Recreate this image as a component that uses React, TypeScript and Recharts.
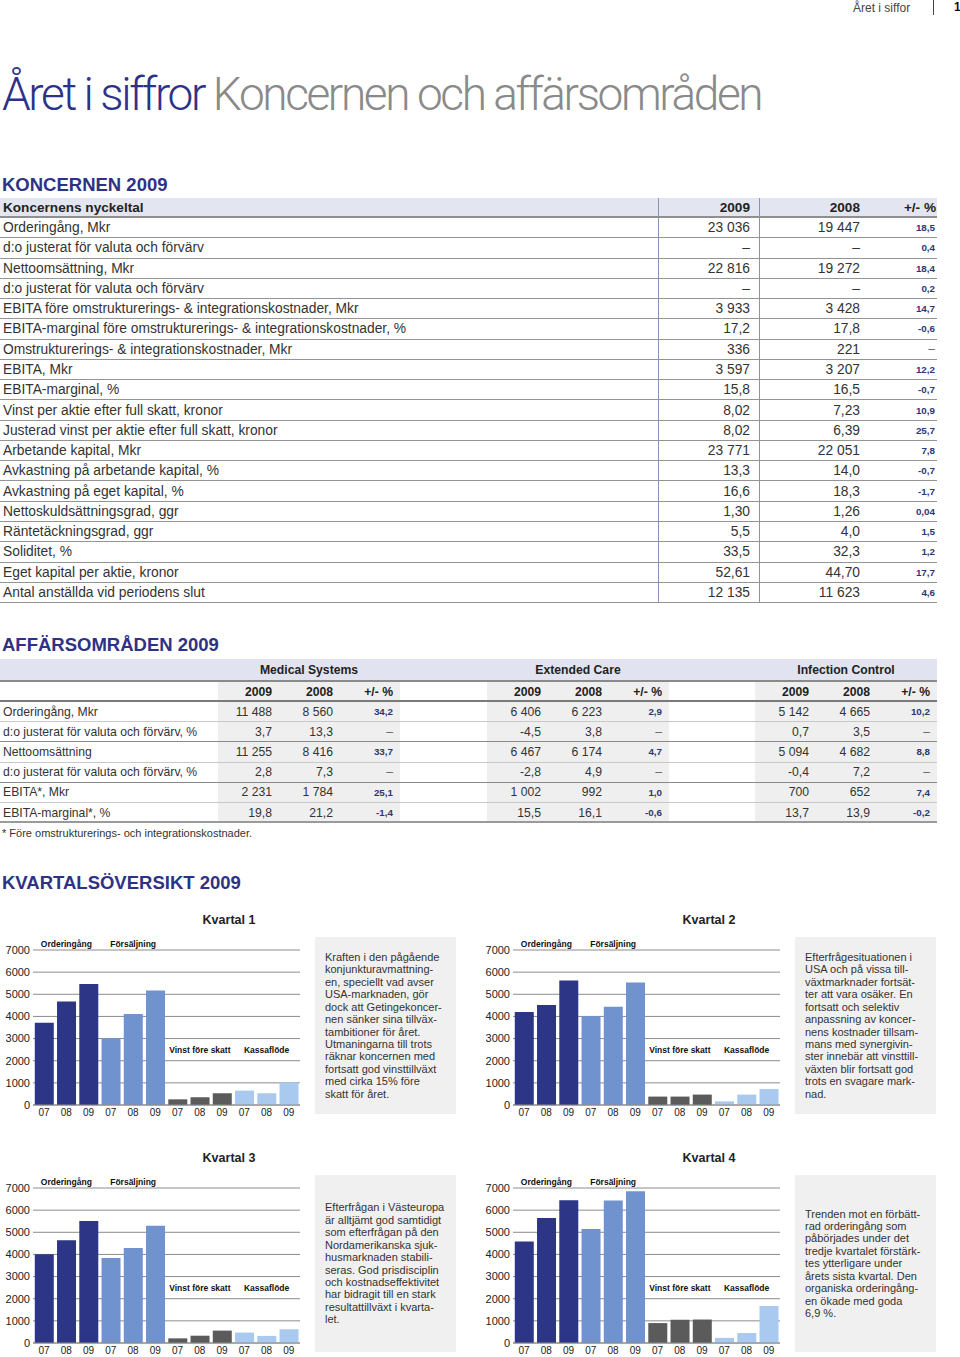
import React from "react";
import { BarChart, Bar, XAxis, YAxis, CartesianGrid, Cell, ReferenceArea } from "recharts";

// ---- quarterly chart data (Mkr) ----
const YEARS = ["07", "08", "09"];
const SERIES_NAMES = ["Orderingång", "Försäljning", "Vinst före skatt", "Kassaflöde"];
const SERIES_COLORS = ["#2c3586", "#7092cf", "#5b5b5b", "#a9c9ee"];
const Y_TICKS = [0, 1000, 2000, 3000, 4000, 5000, 6000, 7000];

const Q1_ORDERS = [3720, 4670, 5470];
const Q1_SALES = [3010, 4110, 5170];
const Q1_PROFIT = [256, 350, 530];
const Q1_CASH = [650, 530, 1010];

const Q2_ORDERS = [4200, 4520, 5620];
const Q2_SALES = [4020, 4440, 5530];
const Q2_PROFIT = [380, 380, 470];
const Q2_CASH = [165, 470, 720];

const Q3_ORDERS = [4010, 4640, 5510];
const Q3_SALES = [3840, 4290, 5290];
const Q3_PROFIT = [210, 330, 560];
const Q3_CASH = [470, 320, 620];

const Q4_ORDERS = [4580, 5650, 6450];
const Q4_SALES = [5150, 6430, 6850];
const Q4_PROFIT = [900, 1050, 1060];
const Q4_CASH = [230, 450, 1670];

const Q1_TEXT = ["Kraften i den pågående", "konjunkturavmattning-", "en, speciellt vad avser", "USA-marknaden, gör", "dock att Getingekoncer-", "nen sänker sina tillväx-", "tambitioner för året.", "Utmaningarna till trots", "räknar koncernen med", "fortsatt god vinsttillväxt", "med cirka 15% före", "skatt för året."];
const Q2_TEXT = ["Efterfrågesituationen i", "USA och på vissa till-", "växtmarknader fortsät-", "ter att vara osäker. En", "fortsatt och selektiv", "anpassning av koncer-", "nens kostnader tillsam-", "mans med synergivin-", "ster innebär att vinsttill-", "växten blir fortsatt god", "trots en svagare mark-", "nad."];
const Q3_TEXT = ["Efterfrågan i Västeuropa", "är alltjämt god samtidigt", "som efterfrågan på den", "Nordamerikanska sjuk-", "husmarknaden stabili-", "seras. God prisdisciplin", "och kostnadseffektivitet", "har bidragit till en stark", "resultattillväxt i kvarta-", "let."];
const Q4_TEXT = ["Trenden mot en förbätt-", "rad orderingång som", "påbörjades under det", "tredje kvartalet förstärk-", "tes ytterligare under", "årets sista kvartal. Den", "organiska orderingång-", "en ökade med goda", "6,9 %."];

// ---- group key figures ----
const KEY_LABELS = [
  "Orderingång, Mkr",
  "d:o justerat för valuta och förvärv",
  "Nettoomsättning, Mkr",
  "d:o justerat för valuta och förvärv",
  "EBITA före omstrukturerings- & integrationskostnader, Mkr",
  "EBITA-marginal före omstrukturerings- & integrationskostnader, %",
  "Omstrukturerings- & integrationskostnader, Mkr",
  "EBITA, Mkr",
  "EBITA-marginal, %",
  "Vinst per aktie efter full skatt, kronor",
  "Justerad vinst per aktie efter full skatt, kronor",
  "Arbetande kapital, Mkr",
  "Avkastning på arbetande kapital, %",
  "Avkastning på eget kapital, %",
  "Nettoskuldsättningsgrad, ggr",
  "Räntetäckningsgrad, ggr",
  "Soliditet, %",
  "Eget kapital per aktie, kronor",
  "Antal anställda vid periodens slut",
];
const KEY_2009 = ["23 036", "–", "22 816", "–", "3 933", "17,2", "336", "3 597", "15,8", "8,02", "8,02", "23 771", "13,3", "16,6", "1,30", "5,5", "33,5", "52,61", "12 135"];
const KEY_2008 = ["19 447", "–", "19 272", "–", "3 428", "17,8", "221", "3 207", "16,5", "7,23", "6,39", "22 051", "14,0", "18,3", "1,26", "4,0", "32,3", "44,70", "11 623"];
const KEY_CHANGE = ["18,5", "0,4", "18,4", "0,2", "14,7", "-0,6", "–", "12,2", "-0,7", "10,9", "25,7", "7,8", "-0,7", "-1,7", "0,04", "1,5", "1,2", "17,7", "4,6"];

// ---- business areas ----
const AREA_NAMES = ["Medical Systems", "Extended Care", "Infection Control"];
const AREA_LABELS = ["Orderingång, Mkr", "d:o justerat för valuta och förvärv, %", "Nettoomsättning", "d:o justerat för valuta och förvärv, %", "EBITA*, Mkr", "EBITA-marginal*, %"];
const MS_2009 = ["11 488", "3,7", "11 255", "2,8", "2 231", "19,8"];
const MS_2008 = ["8 560", "13,3", "8 416", "7,3", "1 784", "21,2"];
const MS_CHANGE = ["34,2", "–", "33,7", "–", "25,1", "-1,4"];
const EC_2009 = ["6 406", "-4,5", "6 467", "-2,8", "1 002", "15,5"];
const EC_2008 = ["6 223", "3,8", "6 174", "4,9", "992", "16,1"];
const EC_CHANGE = ["2,9", "–", "4,7", "–", "1,0", "-0,6"];
const IC_2009 = ["5 142", "0,7", "5 094", "-0,4", "700", "13,7"];
const IC_2008 = ["4 665", "3,5", "4 682", "7,2", "652", "13,9"];
const IC_CHANGE = ["10,2", "–", "8,8", "–", "7,4", "-0,2"];

const NAVY = "#2e3287";
const TEXT = "#333";
const FONT = '"Liberation Sans", Arial, sans-serif';

function Quarter({ title, left, top, series, text }: { title: string; left: number; top: number; series: number[][]; text: string[] }) {
  const data = series.flatMap((vals, s) =>
    YEARS.map((y, i) => ({ id: `${s}|${y}`, value: vals[i], color: SERIES_COLORS[s] }))
  );
  const labelStyle = { fontSize: 8.5, fontWeight: 700, fill: "#111", fontFamily: FONT };
  return (
    <div style={{ position: "absolute", left, top, width: 470, height: 230 }}>
      <div style={{ position: "absolute", left: 0, top: 8, width: 458, textAlign: "center", fontWeight: 700, fontSize: 12.5, color: "#222" }}>{title}</div>
      <div style={{ position: "absolute", left: 0, top: 25 }}>
        <BarChart width={302} height={195} data={data} margin={{ top: 20, right: 2, bottom: 0, left: 0 }} barCategoryGap="8%">
          <CartesianGrid vertical={false} stroke="#8c8c8c" />
          <XAxis dataKey="id" interval={0} tickFormatter={(v: string) => v.split("|")[1]} axisLine={{ stroke: "#8c8c8c" }} tickLine={false} tickSize={0} tickMargin={4} height={20} tick={{ fontSize: 10, fill: "#222", fontFamily: FONT }} />
          <YAxis domain={[0, 7000]} ticks={Y_TICKS} interval={0} width={33} axisLine={false} tickLine={false} tickSize={0} tickMargin={3} tick={{ fontSize: 11, fill: "#222", fontFamily: FONT }} />
          {SERIES_NAMES.map((name, s) => (
            <ReferenceArea
              key={name}
              x1={`${s}|07`}
              x2={`${s}|09`}
              y1={s < 2 ? 7000 : 2000}
              y2={s < 2 ? 7550 : 3000}
              ifOverflow="visible"
              fill="none"
              fillOpacity={0}
              stroke="none"
              label={{ value: name, position: "center", ...labelStyle }}
            />
          ))}
          <Bar dataKey="value" isAnimationActive={false}>
            {data.map((d) => (
              <Cell key={d.id} fill={d.color} />
            ))}
          </Bar>
        </BarChart>
      </div>
      <div style={{ position: "absolute", left: 315, top: 32, width: 141, height: 177, background: "#f0f0f0", display: "flex", flexDirection: "column", justifyContent: "center", boxSizing: "border-box", paddingLeft: 10 }}>
        {text.map((t, i) => (
          <div key={i} style={{ fontSize: 11, lineHeight: "12.4px", color: "#333", whiteSpace: "nowrap" }}>{t}</div>
        ))}
      </div>
    </div>
  );
}

function KeyTable() {
  const rowH = 20.27;
  const cell = (w: number, extra: React.CSSProperties = {}) => ({ width: w, boxSizing: "border-box" as const, height: "100%", display: "flex", alignItems: "center", ...extra });
  const vline = "1px solid #8a90b8";
  return (
    <div style={{ position: "absolute", left: 0, top: 198, width: 937 }}>
      <div style={{ display: "flex", height: 20, background: "#e3e6f0", borderBottom: "2px solid #8f8f8f", boxSizing: "border-box", fontWeight: 700, fontSize: 13.6, color: "#222" }}>
        <div style={cell(658, { paddingLeft: 3 })}>Koncernens nyckeltal</div>
        <div style={cell(101, { borderLeft: vline, justifyContent: "flex-end", paddingRight: 9 })}>2009</div>
        <div style={cell(110, { borderLeft: vline, justifyContent: "flex-end", paddingRight: 9 })}>2008</div>
        <div style={cell(68, { justifyContent: "flex-end", paddingRight: 1 })}>+/- %</div>
      </div>
      {KEY_LABELS.map((label, i) => (
        <div key={i} style={{ display: "flex", height: rowH, borderBottom: "1px solid #949494", boxSizing: "border-box", fontSize: 13.8, color: TEXT }}>
          <div style={cell(658, { paddingLeft: 3, whiteSpace: "nowrap" })}>{label}</div>
          <div style={cell(101, { borderLeft: vline, justifyContent: "flex-end", paddingRight: 9 })}>{KEY_2009[i]}</div>
          <div style={cell(110, { borderLeft: vline, justifyContent: "flex-end", paddingRight: 9 })}>{KEY_2008[i]}</div>
          <div style={cell(68, { justifyContent: "flex-end", paddingRight: 2, fontSize: KEY_CHANGE[i] === "–" ? 12 : 9.8, fontWeight: KEY_CHANGE[i] === "–" ? 400 : 700, color: KEY_CHANGE[i] === "–" ? "#666" : "#30366f" })}>{KEY_CHANGE[i]}</div>
        </div>
      ))}
    </div>
  );
}

function AreaTable() {
  const groupLeft = [218, 487, 755];
  const subW = [63, 61, 58];
  const subPad = [9, 9, 7];
  const cols = [
    [MS_2009, MS_2008, MS_CHANGE],
    [EC_2009, EC_2008, EC_CHANGE],
    [IC_2009, IC_2008, IC_CHANGE],
  ];
  const rowH = 20.2;
  const borders = ["1px solid #c9c9c9", "1px solid #8a8a8a", "1px solid #c9c9c9", "1px solid #8a8a8a", "1px solid #c9c9c9", "2px solid #9a9a9a"];
  const rowTops: number[] = AREA_LABELS.map((_, i) => 43 + i * rowH);
  return (
    <div style={{ position: "absolute", left: 0, top: 659, width: 937, height: 170, fontSize: 12.2, color: TEXT }}>
      {/* gray column backgrounds */}
      {groupLeft.map((gl) => (
        <div key={gl} style={{ position: "absolute", left: gl, top: 23, width: 182, height: 141, background: "#efefef" }} />
      ))}
      {/* band with group names */}
      <div style={{ position: "absolute", left: 0, top: 0, width: 937, height: 23, background: "#e1e4f0", borderBottom: "2px solid #8a8a8a", boxSizing: "border-box" }} />
      {AREA_NAMES.map((n, g) => (
        <div key={n} style={{ position: "absolute", left: groupLeft[g], top: 0, width: 182, height: 22, display: "flex", alignItems: "center", justifyContent: "center", fontWeight: 700, fontSize: 12.2, color: "#222" }}>{n}</div>
      ))}
      {/* sub header */}
      <div style={{ position: "absolute", left: 0, top: 23, width: 937, height: 20, borderBottom: "2px solid #7a7a7a", boxSizing: "border-box" }} />
      {groupLeft.map((gl) => {
        let x = gl;
        return ["2009", "2008", "+/- %"].map((h, k) => {
          const el = (
            <div key={`${gl}-${k}`} style={{ position: "absolute", left: x, top: 23, width: subW[k], height: 19, boxSizing: "border-box", paddingRight: subPad[k], display: "flex", alignItems: "center", justifyContent: "flex-end", fontWeight: 700, color: "#222" }}>{h}</div>
          );
          x += subW[k];
          return el;
        });
      })}
      {/* rows */}
      {AREA_LABELS.map((label, i) => (
        <React.Fragment key={i}>
          <div style={{ position: "absolute", left: 0, top: rowTops[i], width: 937, height: rowH, borderBottom: borders[i], boxSizing: "border-box" }} />
          <div style={{ position: "absolute", left: 3, top: rowTops[i], height: rowH - 1, display: "flex", alignItems: "center", whiteSpace: "nowrap" }}>{label}</div>
          {groupLeft.map((gl, g) => {
            let x = gl;
            return cols[g].map((col, k) => {
              const v = col[i];
              const isChange = k === 2;
              const dash = v === "–";
              const el = (
                <div key={`${g}-${k}`} style={{ position: "absolute", left: x, top: rowTops[i], width: subW[k], height: rowH - 1, boxSizing: "border-box", paddingRight: subPad[k], display: "flex", alignItems: "center", justifyContent: "flex-end", fontSize: isChange && !dash ? 9.8 : 12.2, fontWeight: isChange && !dash ? 700 : 400, color: isChange ? (dash ? "#666" : "#30366f") : TEXT }}>{v}</div>
              );
              x += subW[k];
              return el;
            });
          })}
        </React.Fragment>
      ))}
      <div style={{ position: "absolute", left: 2, top: 168, fontSize: 11, color: TEXT }}>* Före omstrukturerings- och integrationskostnader.</div>
    </div>
  );
}

export default function App() {
  return (
    <div style={{ position: "absolute", left: 0, top: 0, width: 960, height: 1357, background: "#fff", fontFamily: FONT, overflow: "hidden" }}>
      {/* running header */}
      <div style={{ position: "absolute", left: 853, top: 1, fontSize: 12, color: "#444" }}>Året i siffor</div>
      <div style={{ position: "absolute", left: 933, top: 0, width: 1, height: 15, background: "#444" }} />
      <div style={{ position: "absolute", left: 954, top: 0, fontSize: 12, fontWeight: 700, color: "#111" }}>1</div>

      {/* title */}
      <div style={{ position: "absolute", left: 2, top: 71, fontSize: 46, lineHeight: "46px", fontFamily: "Roboto, " + FONT, fontWeight: 300, letterSpacing: -2.4, whiteSpace: "nowrap" }}>
        <span style={{ color: NAVY }}>Året i siffror</span>
        <span style={{ color: "#8a8a8a" }}> Koncernen och affärsområden</span>
      </div>

      <div style={{ position: "absolute", left: 2, top: 176, fontSize: 18.5, lineHeight: 1, fontWeight: 700, color: NAVY }}>KONCERNEN 2009</div>
      <KeyTable />

      <div style={{ position: "absolute", left: 2, top: 636, fontSize: 18.5, lineHeight: 1, fontWeight: 700, color: NAVY }}>AFFÄRSOMRÅDEN 2009</div>
      <AreaTable />

      <div style={{ position: "absolute", left: 2, top: 874, fontSize: 18.5, lineHeight: 1, fontWeight: 700, color: NAVY }}>KVARTALSÖVERSIKT 2009</div>

      <Quarter title="Kvartal 1" left={0} top={905} series={[Q1_ORDERS, Q1_SALES, Q1_PROFIT, Q1_CASH]} text={Q1_TEXT} />
      <Quarter title="Kvartal 2" left={480} top={905} series={[Q2_ORDERS, Q2_SALES, Q2_PROFIT, Q2_CASH]} text={Q2_TEXT} />
      <Quarter title="Kvartal 3" left={0} top={1143} series={[Q3_ORDERS, Q3_SALES, Q3_PROFIT, Q3_CASH]} text={Q3_TEXT} />
      <Quarter title="Kvartal 4" left={480} top={1143} series={[Q4_ORDERS, Q4_SALES, Q4_PROFIT, Q4_CASH]} text={Q4_TEXT} />
    </div>
  );
}
